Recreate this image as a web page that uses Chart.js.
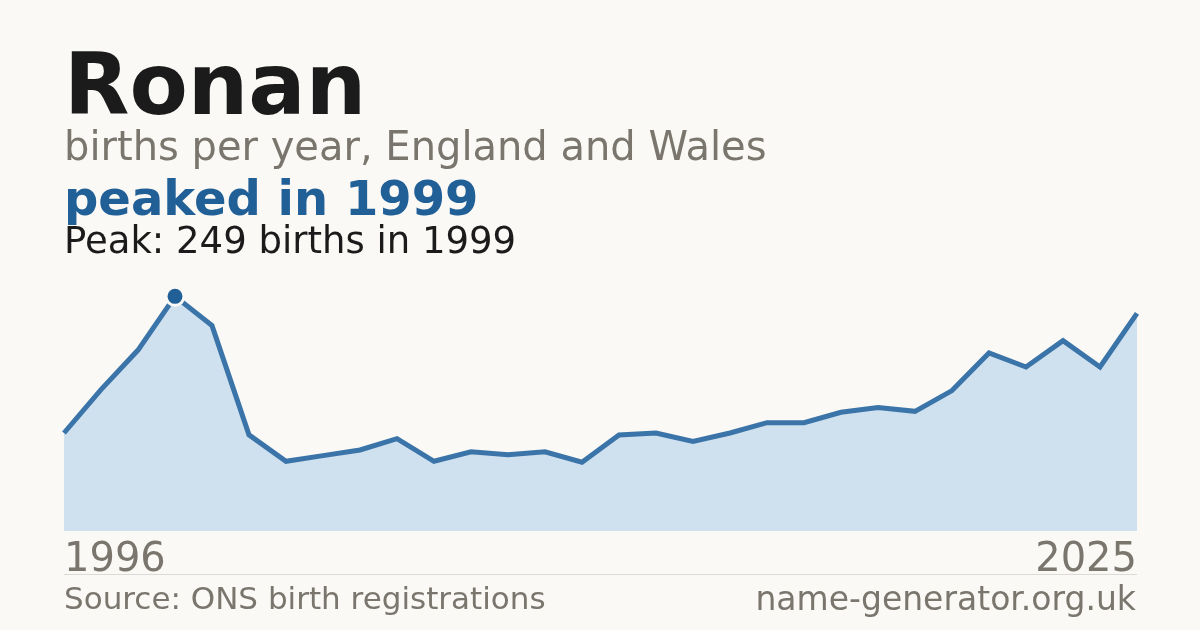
<!DOCTYPE html>
<html>
<head>
<meta charset="utf-8">
<script src="https://cdn.jsdelivr.net/npm/chart.js@4"></script>
<style>
  body { margin: 0; background: #faf9f5; font-family: "DejaVu Sans", sans-serif; }
  #wrap { position: relative; width: 1200px; height: 630px; overflow: hidden; }
  #wrap canvas { position: absolute; left: 0; top: 0; }
  .t { position: absolute; left: 64px; line-height: 1; white-space: nowrap; }
  #title { top: 42px; font-size: 85px; font-weight: bold; color: #1b1b1b; }
  #sub { top: 126px; font-size: 40px; color: #7a766e; }
  #peak { top: 174px; font-size: 48px; font-weight: bold; color: #215f97; }
  #note { top: 222px; font-size: 37px; color: #1b1b1b; }
  #rule { position: absolute; left: 64px; width: 1073px; top: 574px; border-top: 1px solid #dcdad4; }
  .foot { color: #7a766e; }
  #src { top: 583px; font-size: 31px; }
  #site { left: auto; right: 64px; top: 582px; font-size: 33px; }
</style>
</head>
<body>
<div id="wrap">
  <canvas id="chart" width="1200" height="630"></canvas>
  <div class="t" id="title">Ronan</div>
  <div class="t" id="sub">births per year, England and Wales</div>
  <div class="t" id="peak">peaked in 1999</div>
  <div class="t" id="note">Peak: 249 births in 1999</div>
  <div id="rule"></div>
  <div class="t foot" id="src">Source: ONS birth registrations</div>
  <div class="t foot" id="site">name-generator.org.uk</div>
</div>
<script>
const years = [1996, 1997, 1998, 1999, 2000, 2001, 2002, 2003, 2004, 2005,
  2006, 2007, 2008, 2009, 2010, 2011, 2012, 2013, 2014, 2015,
  2016, 2017, 2018, 2019, 2020, 2021, 2022, 2023, 2024, 2025];
const births = [104, 150, 192, 249, 218, 102, 74, 80, 86, 98,
  74, 84, 81, 84, 73, 102, 104, 95, 104, 115,
  115, 126, 131, 127, 149, 189, 174, 202, 174, 231];
const peakYear = 1999;

const lineColor = "#3a74a8";
const fillColor = "#cfe0ef";
const peakIdx = years.indexOf(peakYear);

Chart.defaults.font.family = "'DejaVu Sans', sans-serif";

new Chart(document.getElementById("chart"), {
  type: "line",
  data: {
    labels: years.map(String),
    datasets: [
      {
        data: births,
        borderColor: lineColor,
        borderWidth: 5,
        backgroundColor: fillColor,
        fill: "origin",
        tension: 0,
        clip: false,
        pointRadius: years.map((y, i) => (i === peakIdx ? 9 : 0)),
        pointBackgroundColor: "#215f97",
        pointBorderColor: "#faf9f5",
        pointBorderWidth: 3,
        pointHoverRadius: 0,
      },
    ],
  },
  options: {
    responsive: false,
    animation: false,
    events: [],
    layout: { padding: { left: 64, right: 63, top: 286, bottom: 39 } },
    plugins: { legend: { display: false }, tooltip: { enabled: false } },
    scales: {
      x: {
        offset: false,
        grid: { display: false, drawTicks: false },
        border: { display: false },
        ticks: {
          color: "#7a766e",
          font: { size: 40 },
          padding: 6,
          maxRotation: 0,
          autoSkip: false,
          align: "inner",
          callback: (v, i, ticks) => (i === 0 || i === ticks.length - 1 ? years[i] : ""),
        },
      },
      y: {
        display: false,
        min: 0,
        max: 260,
      },
    },
  },
});
</script>
</body>
</html>
